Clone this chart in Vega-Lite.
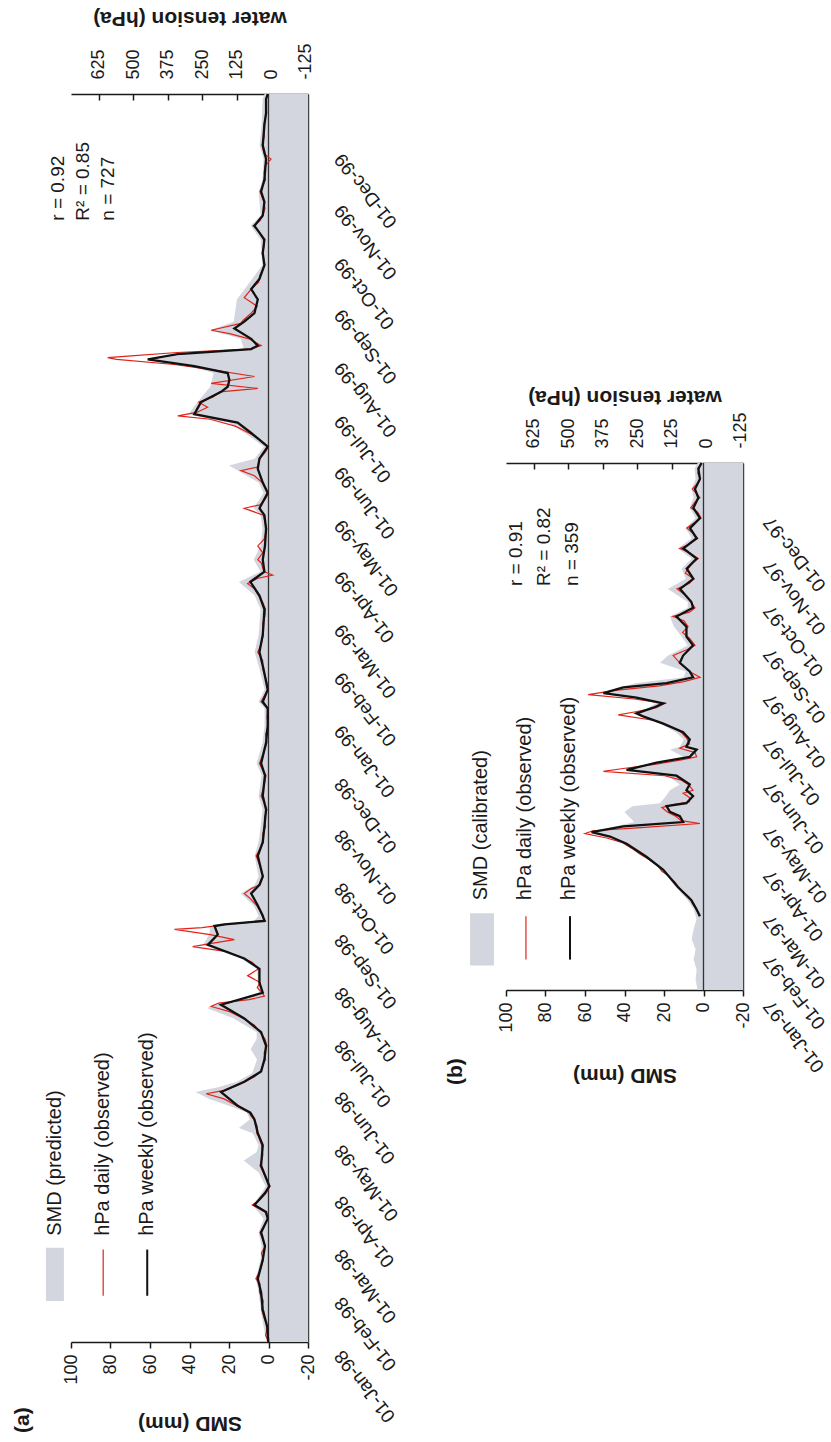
{
"$schema": "https://vega.github.io/schema/vega-lite/v6.json",
"padding": {"left": 12, "top": 7, "right": 0, "bottom": 0},
"config": {"view": {"stroke": null}, "font": "Liberation Sans",
  "axis": {"labelFont": "Liberation Sans", "titleFont": "Liberation Sans", "labelColor": "#1a1a1a", "titleColor": "#1a1a1a", "domainColor": "#1a1a1a", "tickColor": "#1a1a1a", "grid": false, "domainWidth": 1.5, "tickWidth": 1.5, "labelOverlap": false},
  "text": {"font": "Liberation Sans", "color": "#1a1a1a"}},
"datasets": {
"a_smd": [
{"date":"1998-01-01","smd":1},{"date":"1998-01-10","smd":2.5},{"date":"1998-01-20","smd":4},{"date":"1998-01-30","smd":5},{"date":"1998-02-07","smd":6.5},{"date":"1998-02-18","smd":4},{"date":"1998-02-26","smd":3.5},{"date":"1998-03-06","smd":5},{"date":"1998-03-14","smd":2.5},{"date":"1998-03-22","smd":8},{"date":"1998-03-29","smd":3.5},{"date":"1998-04-02","smd":1.5},{"date":"1998-04-10","smd":5},{"date":"1998-04-17","smd":12.5},{"date":"1998-04-22","smd":6},{"date":"1998-04-26","smd":5},{"date":"1998-05-03","smd":8},{"date":"1998-05-06","smd":15},{"date":"1998-05-11","smd":9.5},{"date":"1998-05-15","smd":11},{"date":"1998-05-19","smd":20},{"date":"1998-05-23","smd":30},{"date":"1998-05-27","smd":37},{"date":"1998-05-30","smd":25},{"date":"1998-06-02","smd":16},{"date":"1998-06-07","smd":8.3},{"date":"1998-06-15","smd":5.8},{"date":"1998-06-21","smd":9},{"date":"1998-06-27","smd":6},{"date":"1998-07-01","smd":6},{"date":"1998-07-09","smd":17.6},{"date":"1998-07-15","smd":31},{"date":"1998-07-17","smd":27.8},{"date":"1998-07-22","smd":8},{"date":"1998-07-24","smd":5},{"date":"1998-08-07","smd":5.8},{"date":"1998-08-13","smd":14},{"date":"1998-08-21","smd":33},{"date":"1998-08-27","smd":30},{"date":"1998-09-01","smd":29.5},{"date":"1998-09-03","smd":8},{"date":"1998-09-07","smd":5},{"date":"1998-09-13","smd":7.5},{"date":"1998-09-20","smd":14},{"date":"1998-09-25","smd":7},{"date":"1998-09-30","smd":5},{"date":"1998-10-12","smd":7},{"date":"1998-10-20","smd":5},{"date":"1998-10-29","smd":4},{"date":"1998-11-08","smd":3},{"date":"1998-11-16","smd":5},{"date":"1998-11-28","smd":3.5},{"date":"1998-12-05","smd":6},{"date":"1998-12-17","smd":3},{"date":"1998-12-27","smd":2},{"date":"1999-01-06","smd":2},{"date":"1999-01-10","smd":5},{"date":"1999-01-17","smd":2},{"date":"1999-01-29","smd":4.5},{"date":"1999-02-08","smd":7},{"date":"1999-02-18","smd":5},{"date":"1999-02-25","smd":4.5},{"date":"1999-03-05","smd":4},{"date":"1999-03-13","smd":7},{"date":"1999-03-21","smd":15},{"date":"1999-03-27","smd":4},{"date":"1999-04-03","smd":7.5},{"date":"1999-04-11","smd":4},{"date":"1999-04-21","smd":3},{"date":"1999-04-29","smd":4},{"date":"1999-05-03","smd":7.5},{"date":"1999-05-12","smd":2.5},{"date":"1999-05-18","smd":5},{"date":"1999-05-28","smd":20},{"date":"1999-06-01","smd":7},{"date":"1999-06-08","smd":2.4},{"date":"1999-06-16","smd":12},{"date":"1999-06-22","smd":20},{"date":"1999-06-27","smd":40.5},{"date":"1999-07-04","smd":36},{"date":"1999-07-13","smd":29.5},{"date":"1999-07-21","smd":27.8},{"date":"1999-07-25","smd":40},{"date":"1999-07-29","smd":58},{"date":"1999-08-02","smd":35},{"date":"1999-08-04","smd":12.5},{"date":"1999-08-10","smd":14},{"date":"1999-08-15","smd":29.5},{"date":"1999-08-20","smd":17.6},{"date":"1999-09-02","smd":16},{"date":"1999-09-10","smd":10.8},{"date":"1999-09-22","smd":3.2},{"date":"1999-10-07","smd":4},{"date":"1999-10-15","smd":9},{"date":"1999-10-21","smd":4},{"date":"1999-11-04","smd":5},{"date":"1999-11-11","smd":3},{"date":"1999-11-23","smd":2.5},{"date":"1999-12-01","smd":4.5},{"date":"1999-12-13","smd":3.5},{"date":"1999-12-28","smd":3},{"date":"1999-12-31","smd":2}],
"a_weekly": [
{"date":"1998-01-01","hpa":10},{"date":"1998-01-10","hpa":14},{"date":"1998-01-20","hpa":30},{"date":"1998-01-30","hpa":36},{"date":"1998-02-07","hpa":48},{"date":"1998-02-18","hpa":30},{"date":"1998-02-26","hpa":22},{"date":"1998-03-06","hpa":36},{"date":"1998-03-14","hpa":12},{"date":"1998-03-18","hpa":18},{"date":"1998-03-22","hpa":60},{"date":"1998-03-29","hpa":22},{"date":"1998-04-02","hpa":6},{"date":"1998-04-14","hpa":36},{"date":"1998-04-26","hpa":30},{"date":"1998-05-03","hpa":48},{"date":"1998-05-11","hpa":60},{"date":"1998-05-15","hpa":75},{"date":"1998-05-19","hpa":121},{"date":"1998-05-27","hpa":181},{"date":"1998-06-02","hpa":97},{"date":"1998-06-08","hpa":36},{"date":"1998-06-15","hpa":24},{"date":"1998-06-23","hpa":18},{"date":"1998-07-01","hpa":36},{"date":"1998-07-09","hpa":97},{"date":"1998-07-17","hpa":181},{"date":"1998-07-24","hpa":30},{"date":"1998-07-30","hpa":42},{"date":"1998-08-07","hpa":42},{"date":"1998-08-13","hpa":97},{"date":"1998-08-21","hpa":229},{"date":"1998-08-27","hpa":193},{"date":"1998-09-01","hpa":205},{"date":"1998-09-02","hpa":169},{"date":"1998-09-04","hpa":24},{"date":"1998-09-07","hpa":30},{"date":"1998-09-13","hpa":48},{"date":"1998-09-20","hpa":72},{"date":"1998-09-25","hpa":42},{"date":"1998-09-30","hpa":30},{"date":"1998-10-12","hpa":48},{"date":"1998-10-20","hpa":30},{"date":"1998-10-29","hpa":24},{"date":"1998-11-08","hpa":18},{"date":"1998-11-16","hpa":30},{"date":"1998-11-28","hpa":22},{"date":"1998-12-05","hpa":36},{"date":"1998-12-17","hpa":18},{"date":"1998-12-27","hpa":12},{"date":"1999-01-06","hpa":12},{"date":"1999-01-10","hpa":30},{"date":"1999-01-17","hpa":12},{"date":"1999-01-29","hpa":27},{"date":"1999-02-08","hpa":42},{"date":"1999-02-18","hpa":30},{"date":"1999-02-25","hpa":27},{"date":"1999-03-05","hpa":24},{"date":"1999-03-13","hpa":42},{"date":"1999-03-21","hpa":75},{"date":"1999-03-27","hpa":24},{"date":"1999-04-03","hpa":30},{"date":"1999-04-11","hpa":22},{"date":"1999-04-21","hpa":18},{"date":"1999-04-29","hpa":24},{"date":"1999-05-03","hpa":42},{"date":"1999-05-12","hpa":12},{"date":"1999-05-18","hpa":30},{"date":"1999-05-26","hpa":48},{"date":"1999-06-01","hpa":42},{"date":"1999-06-08","hpa":12},{"date":"1999-06-16","hpa":72},{"date":"1999-06-22","hpa":121},{"date":"1999-06-27","hpa":278},{"date":"1999-07-04","hpa":254},{"date":"1999-07-10","hpa":181},{"date":"1999-07-13","hpa":157},{"date":"1999-07-17","hpa":151},{"date":"1999-07-21","hpa":157},{"date":"1999-07-25","hpa":278},{"date":"1999-07-29","hpa":447},{"date":"1999-08-01","hpa":338},{"date":"1999-08-04","hpa":72},{"date":"1999-08-06","hpa":48},{"date":"1999-08-10","hpa":72},{"date":"1999-08-16","hpa":133},{"date":"1999-08-20","hpa":97},{"date":"1999-08-25","hpa":60},{"date":"1999-09-02","hpa":48},{"date":"1999-09-08","hpa":72},{"date":"1999-09-14","hpa":42},{"date":"1999-09-22","hpa":24},{"date":"1999-09-29","hpa":30},{"date":"1999-10-07","hpa":24},{"date":"1999-10-15","hpa":60},{"date":"1999-10-21","hpa":30},{"date":"1999-10-29","hpa":24},{"date":"1999-11-04","hpa":36},{"date":"1999-11-11","hpa":24},{"date":"1999-11-23","hpa":18},{"date":"1999-12-01","hpa":30},{"date":"1999-12-13","hpa":24},{"date":"1999-12-20","hpa":18},{"date":"1999-12-28","hpa":18},{"date":"1999-12-31","hpa":12}],
"a_daily": [
{"date":"1998-01-01","hpa":8},{"date":"1998-01-05","hpa":20},{"date":"1998-01-10","hpa":12},{"date":"1998-01-15","hpa":25},{"date":"1998-01-20","hpa":34},{"date":"1998-01-25","hpa":28},{"date":"1998-01-30","hpa":42},{"date":"1998-02-04","hpa":40},{"date":"1998-02-07","hpa":55},{"date":"1998-02-12","hpa":38},{"date":"1998-02-18","hpa":28},{"date":"1998-02-22","hpa":35},{"date":"1998-02-26","hpa":20},{"date":"1998-03-02","hpa":30},{"date":"1998-03-06","hpa":40},{"date":"1998-03-10","hpa":25},{"date":"1998-03-14","hpa":10},{"date":"1998-03-18","hpa":22},{"date":"1998-03-22","hpa":68},{"date":"1998-03-25","hpa":40},{"date":"1998-03-29","hpa":18},{"date":"1998-04-02","hpa":4},{"date":"1998-04-08","hpa":22},{"date":"1998-04-14","hpa":40},{"date":"1998-04-20","hpa":30},{"date":"1998-04-26","hpa":34},{"date":"1998-05-01","hpa":45},{"date":"1998-05-03","hpa":52},{"date":"1998-05-07","hpa":50},{"date":"1998-05-11","hpa":62},{"date":"1998-05-13","hpa":72},{"date":"1998-05-15","hpa":80},{"date":"1998-05-19","hpa":125},{"date":"1998-05-23","hpa":170},{"date":"1998-05-26","hpa":235},{"date":"1998-05-28","hpa":170},{"date":"1998-05-31","hpa":120},{"date":"1998-06-02","hpa":95},{"date":"1998-06-05","hpa":60},{"date":"1998-06-08","hpa":38},{"date":"1998-06-12","hpa":30},{"date":"1998-06-15","hpa":20},{"date":"1998-06-19","hpa":25},{"date":"1998-06-23","hpa":15},{"date":"1998-06-27","hpa":22},{"date":"1998-07-01","hpa":40},{"date":"1998-07-05","hpa":60},{"date":"1998-07-09","hpa":100},{"date":"1998-07-13","hpa":150},{"date":"1998-07-16","hpa":217},{"date":"1998-07-18","hpa":190},{"date":"1998-07-20","hpa":80},{"date":"1998-07-22","hpa":24},{"date":"1998-07-24","hpa":32},{"date":"1998-07-27","hpa":50},{"date":"1998-07-30","hpa":40},{"date":"1998-08-03","hpa":85},{"date":"1998-08-07","hpa":45},{"date":"1998-08-11","hpa":70},{"date":"1998-08-13","hpa":100},{"date":"1998-08-17","hpa":160},{"date":"1998-08-20","hpa":284},{"date":"1998-08-22","hpa":210},{"date":"1998-08-24","hpa":133},{"date":"1998-08-27","hpa":220},{"date":"1998-08-30","hpa":350},{"date":"1998-08-31","hpa":250},{"date":"1998-09-02","hpa":160},{"date":"1998-09-04","hpa":20},{"date":"1998-09-07","hpa":32},{"date":"1998-09-10","hpa":40},{"date":"1998-09-13","hpa":52},{"date":"1998-09-17","hpa":75},{"date":"1998-09-20","hpa":97},{"date":"1998-09-23","hpa":70},{"date":"1998-09-25","hpa":40},{"date":"1998-09-30","hpa":28},{"date":"1998-10-06","hpa":40},{"date":"1998-10-12","hpa":54},{"date":"1998-10-16","hpa":40},{"date":"1998-10-20","hpa":28},{"date":"1998-10-25","hpa":30},{"date":"1998-10-29","hpa":20},{"date":"1998-11-03","hpa":24},{"date":"1998-11-08","hpa":15},{"date":"1998-11-12","hpa":25},{"date":"1998-11-16","hpa":36},{"date":"1998-11-22","hpa":25},{"date":"1998-11-28","hpa":18},{"date":"1998-12-01","hpa":30},{"date":"1998-12-05","hpa":42},{"date":"1998-12-10","hpa":30},{"date":"1998-12-17","hpa":15},{"date":"1998-12-22","hpa":20},{"date":"1998-12-27","hpa":10},{"date":"1999-01-01","hpa":14},{"date":"1999-01-06","hpa":10},{"date":"1999-01-10","hpa":36},{"date":"1999-01-14","hpa":22},{"date":"1999-01-17","hpa":10},{"date":"1999-01-23","hpa":18},{"date":"1999-01-29","hpa":30},{"date":"1999-02-03","hpa":30},{"date":"1999-02-08","hpa":48},{"date":"1999-02-13","hpa":35},{"date":"1999-02-18","hpa":28},{"date":"1999-02-25","hpa":30},{"date":"1999-03-01","hpa":22},{"date":"1999-03-05","hpa":20},{"date":"1999-03-09","hpa":30},{"date":"1999-03-13","hpa":45},{"date":"1999-03-17","hpa":60},{"date":"1999-03-20","hpa":85},{"date":"1999-03-23","hpa":50},{"date":"1999-03-25","hpa":-6},{"date":"1999-03-27","hpa":26},{"date":"1999-04-01","hpa":35},{"date":"1999-04-03","hpa":48},{"date":"1999-04-07","hpa":30},{"date":"1999-04-11","hpa":48},{"date":"1999-04-15","hpa":25},{"date":"1999-04-21","hpa":16},{"date":"1999-04-25","hpa":22},{"date":"1999-04-29","hpa":28},{"date":"1999-05-03","hpa":97},{"date":"1999-05-05","hpa":40},{"date":"1999-05-09","hpa":18},{"date":"1999-05-12","hpa":10},{"date":"1999-05-18","hpa":32},{"date":"1999-05-22","hpa":60},{"date":"1999-05-25","hpa":109},{"date":"1999-05-27","hpa":50},{"date":"1999-06-01","hpa":40},{"date":"1999-06-05","hpa":20},{"date":"1999-06-08","hpa":10},{"date":"1999-06-12","hpa":40},{"date":"1999-06-16","hpa":80},{"date":"1999-06-20","hpa":130},{"date":"1999-06-24","hpa":220},{"date":"1999-06-26","hpa":338},{"date":"1999-06-28","hpa":270},{"date":"1999-07-01","hpa":230},{"date":"1999-07-04","hpa":262},{"date":"1999-07-07","hpa":210},{"date":"1999-07-10","hpa":185},{"date":"1999-07-12","hpa":48},{"date":"1999-07-15","hpa":217},{"date":"1999-07-19","hpa":60},{"date":"1999-07-23","hpa":217},{"date":"1999-07-26","hpa":350},{"date":"1999-07-29","hpa":560},{"date":"1999-07-30","hpa":592},{"date":"1999-07-31","hpa":507},{"date":"1999-08-02","hpa":340},{"date":"1999-08-04","hpa":80},{"date":"1999-08-06","hpa":36},{"date":"1999-08-10","hpa":80},{"date":"1999-08-13","hpa":150},{"date":"1999-08-15","hpa":217},{"date":"1999-08-19","hpa":110},{"date":"1999-08-21","hpa":100},{"date":"1999-08-25","hpa":72},{"date":"1999-08-29","hpa":50},{"date":"1999-09-03","hpa":97},{"date":"1999-09-08","hpa":72},{"date":"1999-09-12","hpa":45},{"date":"1999-09-16","hpa":40},{"date":"1999-09-22","hpa":22},{"date":"1999-09-29","hpa":32},{"date":"1999-10-03","hpa":25},{"date":"1999-10-07","hpa":28},{"date":"1999-10-12","hpa":45},{"date":"1999-10-15","hpa":65},{"date":"1999-10-18","hpa":40},{"date":"1999-10-21","hpa":30},{"date":"1999-10-25","hpa":22},{"date":"1999-10-29","hpa":26},{"date":"1999-11-04","hpa":40},{"date":"1999-11-08","hpa":28},{"date":"1999-11-11","hpa":20},{"date":"1999-11-15","hpa":25},{"date":"1999-11-19","hpa":22},{"date":"1999-11-23","hpa":0},{"date":"1999-11-26","hpa":25},{"date":"1999-12-01","hpa":32},{"date":"1999-12-06","hpa":25},{"date":"1999-12-13","hpa":26},{"date":"1999-12-20","hpa":16},{"date":"1999-12-28","hpa":20},{"date":"1999-12-31","hpa":10}],
"b_smd": [
{"date":"1997-01-01","smd":3},{"date":"1997-01-08","smd":4},{"date":"1997-01-15","smd":3.5},{"date":"1997-01-22","smd":5},{"date":"1997-01-29","smd":4},{"date":"1997-02-05","smd":6},{"date":"1997-02-12","smd":5},{"date":"1997-02-19","smd":3.5},{"date":"1997-02-26","smd":5},{"date":"1997-03-04","smd":8},{"date":"1997-03-13","smd":14},{"date":"1997-03-25","smd":21},{"date":"1997-04-03","smd":30},{"date":"1997-04-12","smd":40},{"date":"1997-04-17","smd":47},{"date":"1997-04-20","smd":57},{"date":"1997-04-24","smd":45},{"date":"1997-04-27","smd":35},{"date":"1997-05-01","smd":38},{"date":"1997-05-04","smd":40},{"date":"1997-05-08","smd":36},{"date":"1997-05-10","smd":22},{"date":"1997-05-15","smd":19},{"date":"1997-05-19","smd":17},{"date":"1997-05-23","smd":12},{"date":"1997-05-29","smd":18},{"date":"1997-06-02","smd":40},{"date":"1997-06-07","smd":26},{"date":"1997-06-11","smd":10},{"date":"1997-06-16","smd":17},{"date":"1997-06-18","smd":12},{"date":"1997-06-23","smd":10},{"date":"1997-06-28","smd":14},{"date":"1997-07-04","smd":22},{"date":"1997-07-09","smd":31},{"date":"1997-07-11","smd":35},{"date":"1997-07-15","smd":28},{"date":"1997-07-18","smd":24},{"date":"1997-07-22","smd":35},{"date":"1997-07-25","smd":52},{"date":"1997-07-29","smd":42},{"date":"1997-08-01","smd":34},{"date":"1997-08-05","smd":10},{"date":"1997-08-09","smd":9},{"date":"1997-08-15","smd":22},{"date":"1997-08-20","smd":18},{"date":"1997-08-27","smd":8},{"date":"1997-09-02","smd":11},{"date":"1997-09-09","smd":15},{"date":"1997-09-16","smd":17},{"date":"1997-09-22","smd":8},{"date":"1997-09-26","smd":8},{"date":"1997-10-05","smd":18},{"date":"1997-10-12","smd":9},{"date":"1997-10-19","smd":11},{"date":"1997-10-26","smd":6},{"date":"1997-11-02","smd":13},{"date":"1997-11-09","smd":6},{"date":"1997-11-16","smd":9},{"date":"1997-11-23","smd":4},{"date":"1997-11-30","smd":7},{"date":"1997-12-07","smd":5},{"date":"1997-12-13","smd":6},{"date":"1997-12-20","smd":4},{"date":"1997-12-27","smd":4.5},{"date":"1997-12-31","smd":3}],
"b_weekly": [
{"date":"1997-02-21","hpa":22},{"date":"1997-02-26","hpa":35},{"date":"1997-03-04","hpa":53},{"date":"1997-03-13","hpa":101},{"date":"1997-03-25","hpa":155},{"date":"1997-04-03","hpa":216},{"date":"1997-04-12","hpa":288},{"date":"1997-04-17","hpa":348},{"date":"1997-04-20","hpa":415},{"date":"1997-04-24","hpa":300},{"date":"1997-04-27","hpa":83},{"date":"1997-05-01","hpa":95},{"date":"1997-05-04","hpa":131},{"date":"1997-05-08","hpa":143},{"date":"1997-05-10","hpa":71},{"date":"1997-05-15","hpa":47},{"date":"1997-05-19","hpa":71},{"date":"1997-05-23","hpa":59},{"date":"1997-05-29","hpa":107},{"date":"1997-06-02","hpa":288},{"date":"1997-06-07","hpa":179},{"date":"1997-06-11","hpa":59},{"date":"1997-06-16","hpa":34},{"date":"1997-06-18","hpa":71},{"date":"1997-06-23","hpa":59},{"date":"1997-06-28","hpa":83},{"date":"1997-07-04","hpa":155},{"date":"1997-07-09","hpa":228},{"date":"1997-07-11","hpa":252},{"date":"1997-07-15","hpa":191},{"date":"1997-07-18","hpa":155},{"date":"1997-07-22","hpa":252},{"date":"1997-07-25","hpa":372},{"date":"1997-07-29","hpa":300},{"date":"1997-08-01","hpa":143},{"date":"1997-08-05","hpa":47},{"date":"1997-08-09","hpa":59},{"date":"1997-08-15","hpa":95},{"date":"1997-08-20","hpa":83},{"date":"1997-08-27","hpa":47},{"date":"1997-09-02","hpa":71},{"date":"1997-09-09","hpa":71},{"date":"1997-09-16","hpa":107},{"date":"1997-09-22","hpa":47},{"date":"1997-09-26","hpa":53},{"date":"1997-10-05","hpa":94},{"date":"1997-10-12","hpa":46},{"date":"1997-10-19","hpa":70},{"date":"1997-10-26","hpa":34},{"date":"1997-11-02","hpa":82},{"date":"1997-11-09","hpa":34},{"date":"1997-11-16","hpa":58},{"date":"1997-11-23","hpa":22},{"date":"1997-11-30","hpa":46},{"date":"1997-12-07","hpa":28},{"date":"1997-12-13","hpa":40},{"date":"1997-12-20","hpa":22},{"date":"1997-12-27","hpa":28},{"date":"1997-12-31","hpa":16}],
"b_daily": [
{"date":"1997-02-21","hpa":25},{"date":"1997-02-24","hpa":30},{"date":"1997-02-27","hpa":40},{"date":"1997-03-02","hpa":50},{"date":"1997-03-06","hpa":60},{"date":"1997-03-10","hpa":85},{"date":"1997-03-13","hpa":100},{"date":"1997-03-17","hpa":115},{"date":"1997-03-21","hpa":138},{"date":"1997-03-24","hpa":160},{"date":"1997-03-28","hpa":175},{"date":"1997-04-01","hpa":205},{"date":"1997-04-05","hpa":240},{"date":"1997-04-09","hpa":270},{"date":"1997-04-13","hpa":305},{"date":"1997-04-16","hpa":360},{"date":"1997-04-19","hpa":439},{"date":"1997-04-21","hpa":410},{"date":"1997-04-23","hpa":250},{"date":"1997-04-26","hpa":22},{"date":"1997-04-28","hpa":90},{"date":"1997-05-01","hpa":110},{"date":"1997-05-04","hpa":140},{"date":"1997-05-07","hpa":160},{"date":"1997-05-09","hpa":120},{"date":"1997-05-11","hpa":60},{"date":"1997-05-14","hpa":60},{"date":"1997-05-17","hpa":83},{"date":"1997-05-19","hpa":47},{"date":"1997-05-23","hpa":65},{"date":"1997-05-26","hpa":90},{"date":"1997-05-29","hpa":150},{"date":"1997-06-01","hpa":372},{"date":"1997-06-03","hpa":300},{"date":"1997-06-06","hpa":180},{"date":"1997-06-09","hpa":90},{"date":"1997-06-11","hpa":34},{"date":"1997-06-14","hpa":40},{"date":"1997-06-17","hpa":95},{"date":"1997-06-20","hpa":60},{"date":"1997-06-24","hpa":70},{"date":"1997-06-28","hpa":90},{"date":"1997-07-02","hpa":130},{"date":"1997-07-06","hpa":180},{"date":"1997-07-10","hpa":318},{"date":"1997-07-12","hpa":260},{"date":"1997-07-15","hpa":180},{"date":"1997-07-18","hpa":150},{"date":"1997-07-21","hpa":260},{"date":"1997-07-24","hpa":427},{"date":"1997-07-27","hpa":330},{"date":"1997-07-30","hpa":170},{"date":"1997-08-02","hpa":80},{"date":"1997-08-05","hpa":22},{"date":"1997-08-09","hpa":60},{"date":"1997-08-15","hpa":95},{"date":"1997-08-20","hpa":119},{"date":"1997-08-24","hpa":70},{"date":"1997-08-27","hpa":40},{"date":"1997-09-01","hpa":60},{"date":"1997-09-05","hpa":85},{"date":"1997-09-09","hpa":65},{"date":"1997-09-13","hpa":80},{"date":"1997-09-16","hpa":120},{"date":"1997-09-19","hpa":60},{"date":"1997-09-22","hpa":40},{"date":"1997-09-26","hpa":55},{"date":"1997-09-30","hpa":70},{"date":"1997-10-05","hpa":105},{"date":"1997-10-09","hpa":60},{"date":"1997-10-12","hpa":45},{"date":"1997-10-16","hpa":75},{"date":"1997-10-19","hpa":65},{"date":"1997-10-23","hpa":50},{"date":"1997-10-26","hpa":28},{"date":"1997-10-30","hpa":60},{"date":"1997-11-02","hpa":95},{"date":"1997-11-05","hpa":60},{"date":"1997-11-09","hpa":30},{"date":"1997-11-13","hpa":50},{"date":"1997-11-16","hpa":70},{"date":"1997-11-20","hpa":40},{"date":"1997-11-23","hpa":18},{"date":"1997-11-27","hpa":30},{"date":"1997-11-30","hpa":55},{"date":"1997-12-04","hpa":40},{"date":"1997-12-07","hpa":22},{"date":"1997-12-10","hpa":35},{"date":"1997-12-13","hpa":50},{"date":"1997-12-17","hpa":30},{"date":"1997-12-20","hpa":20},{"date":"1997-12-24","hpa":30},{"date":"1997-12-27","hpa":25},{"date":"1997-12-31","hpa":18}]
},
"hconcat": [
{
 "width": 237, "height": 1248,
 "title": {"text": "(a)", "orient": "left", "anchor": "start", "fontSize": 21, "fontWeight": "bold", "font": "Liberation Sans", "color": "#1a1a1a", "offset": 12},
 "layer": [
  {"layer": [
   {"data": {"name": "a_smd"}, "mark": {"type": "area", "orient": "horizontal", "color": "#d3d6de"},
    "encoding": {
     "y": {"field": "date", "type": "temporal", "title": null, "scale": {"domain": [{"year":1998,"month":1,"date":1},{"year":1999,"month":12,"date":31}]},
       "axis": {"orient": "right", "format": "%d-%b-%y", "tickCount": {"interval": "month", "step": 1}, "labelAngle": -128, "labelAlign": "right", "labelBaseline": "middle", "labelPadding": 30, "labelOffset": 10, "labelFontSize": 19, "ticks": false, "domainColor": "#444", "title": null, "labelFlush": false, "labelOverlap": false, "labelBound": false}},
     "x": {"field": "smd", "type": "quantitative", "scale": {"domain": [-20, 100], "reverse": true},
       "axis": {"orient": "bottom", "values": [100, 80, 60, 40, 20, 0, -20], "tickCount": 12, "labelExpr": "replace(datum.label, '\u2212', '-')", "labelAngle": -90, "labelFontSize": 18, "tickSize": 6, "labelPadding": 6, "labelOverlap": false, "labelBound": false, "title": "SMD (mm)", "titleAngle": 180, "titleBaseline": "bottom", "titleFontSize": 21, "titleFontWeight": "bold", "titlePadding": 28}},
     "x2": {"datum": -20}
    }},
   {"data": {"values": [{}]}, "mark": {"type": "rule", "color": "#333", "strokeWidth": 1.3}, "encoding": {"x": {"datum": 0, "type": "quantitative", "title": null}}},
   {"data": {"values": [{}]}, "mark": {"type": "rect", "color": "#d3d6de"},
    "encoding": {"x": {"datum": 112.7, "type": "quantitative", "title": null}, "x2": {"datum": 103.6},
     "y": {"datum": {"year":1998,"month":1,"date":25}, "type": "temporal", "title": null}, "y2": {"datum": {"year":1998,"month":2,"date":25}}}},
   {"data": {"values": [{}]}, "mark": {"type": "rule", "color": "#e2231a", "strokeWidth": 1.2},
    "encoding": {"x": {"datum": 83.7, "type": "quantitative", "title": null},
     "y": {"datum": {"year":1998,"month":1,"date":28}, "type": "temporal", "title": null}, "y2": {"datum": {"year":1998,"month":2,"date":24}}}},
   {"data": {"values": [{}]}, "mark": {"type": "rule", "color": "#111", "strokeWidth": 2},
    "encoding": {"x": {"datum": 61.4, "type": "quantitative", "title": null},
     "y": {"datum": {"year":1998,"month":1,"date":28}, "type": "temporal", "title": null}, "y2": {"datum": {"year":1998,"month":2,"date":24}}}},
   {"data": {"values": [{"label": "SMD (predicted)"}]}, "mark": {"type": "text", "angle": 270, "align": "left", "baseline": "middle", "fontSize": 20},
    "encoding": {"text": {"field": "label"}, "x": {"datum": 108, "type": "quantitative", "title": null}, "y": {"datum": {"year":1998,"month":3,"date":4}, "type": "temporal", "title": null}}},
   {"data": {"values": [{"label": "hPa daily (observed)"}]}, "mark": {"type": "text", "angle": 270, "align": "left", "baseline": "middle", "fontSize": 20},
    "encoding": {"text": {"field": "label"}, "x": {"datum": 83.7, "type": "quantitative", "title": null}, "y": {"datum": {"year":1998,"month":3,"date":4}, "type": "temporal", "title": null}}},
   {"data": {"values": [{"label": "hPa weekly (observed)"}]}, "mark": {"type": "text", "angle": 270, "align": "left", "baseline": "middle", "fontSize": 20},
    "encoding": {"text": {"field": "label"}, "x": {"datum": 61.4, "type": "quantitative", "title": null}, "y": {"datum": {"year":1998,"month":3,"date":4}, "type": "temporal", "title": null}}},
   {"data": {"values": [{}]}, "mark": {"type": "text", "angle": 270, "align": "left", "baseline": "top", "fontSize": 19, "lineHeight": 25, "text": ["r = 0.92", "R² = 0.85", "n = 727"]},
    "encoding": {"x": {"datum": 111.2, "type": "quantitative", "title": null}, "y": {"datum": {"year":1999,"month":10,"date":18}, "type": "temporal", "title": null}}}
  ]},
  {"layer": [
   {"data": {"name": "a_daily"}, "mark": {"type": "line", "orient": "horizontal", "color": "#e2231a", "strokeWidth": 1.2},
    "encoding": {
     "y": {"field": "date", "type": "temporal", "title": null, "scale": {"domain": [{"year":1998,"month":1,"date":1},{"year":1999,"month":12,"date":31}]}},
     "x": {"field": "hpa", "type": "quantitative", "scale": {"domain": [-134, 725], "reverse": true},
       "axis": {"orient": "top", "values": [625, 500, 375, 250, 125, 0, -125], "tickCount": 12, "labelExpr": "replace(datum.label, '\u2212', '-')", "labelAngle": -90, "labelFontSize": 18, "tickSize": -6, "labelPadding": 21, "labelOverlap": false, "labelBound": false, "title": "water tension (hPa)", "titleAngle": 180, "titleBaseline": "top", "titleFontSize": 21, "titleFontWeight": "bold", "titlePadding": 14}},
     "order": {"field": "date", "type": "temporal"}
    }},
   {"data": {"name": "a_weekly"}, "mark": {"type": "line", "orient": "horizontal", "color": "#111", "strokeWidth": 2.3},
    "encoding": {
     "y": {"field": "date", "type": "temporal", "title": null, "scale": {"domain": [{"year":1998,"month":1,"date":1},{"year":1999,"month":12,"date":31}]}},
     "x": {"field": "hpa", "type": "quantitative", "scale": {"domain": [-134, 725], "reverse": true}},
     "order": {"field": "date", "type": "temporal"}
    }}
  ]}
 ],
 "resolve": {"scale": {"x": "independent"}, "axis": {"x": "independent"}}
},
{
 "spacing": 0,
 "vconcat": [
 {"width": 1, "height": 292, "data": {"values": []}, "mark": "point"},
 {
 "width": 237, "height": 527,
 "title": {"text": "(b)", "orient": "left", "anchor": "start", "fontSize": 21, "fontWeight": "bold", "font": "Liberation Sans", "color": "#1a1a1a", "offset": 4},
 "layer": [
  {"layer": [
   {"data": {"name": "b_smd"}, "mark": {"type": "area", "orient": "horizontal", "color": "#d3d6de"},
    "encoding": {
     "y": {"field": "date", "type": "temporal", "title": null, "scale": {"domain": [{"year":1997,"month":1,"date":1},{"year":1997,"month":12,"date":31}]},
       "axis": {"orient": "right", "format": "%d-%b-%y", "tickCount": {"interval": "month", "step": 1}, "labelAngle": -128, "labelAlign": "right", "labelBaseline": "middle", "labelPadding": 24, "labelOffset": 12, "labelFontSize": 19, "ticks": false, "domainColor": "#444", "title": null, "labelFlush": false, "labelOverlap": false, "labelBound": false}},
     "x": {"field": "smd", "type": "quantitative", "scale": {"domain": [-20, 100], "reverse": true},
       "axis": {"orient": "bottom", "values": [100, 80, 60, 40, 20, 0, -20], "tickCount": 12, "labelExpr": "replace(datum.label, '\u2212', '-')", "labelAngle": -90, "labelFontSize": 18, "tickSize": 6, "labelPadding": 6, "labelOverlap": false, "labelBound": false, "title": "SMD (mm)", "titleAngle": 180, "titleBaseline": "bottom", "titleFontSize": 21, "titleFontWeight": "bold", "titlePadding": 32}},
     "x2": {"datum": -20}
    }},
   {"data": {"values": [{}]}, "mark": {"type": "rule", "color": "#333", "strokeWidth": 1.3}, "encoding": {"x": {"datum": 0, "type": "quantitative", "title": null}}},
   {"data": {"values": [{}]}, "mark": {"type": "rect", "color": "#d3d6de"},
    "encoding": {"x": {"datum": 118.2, "type": "quantitative", "title": null}, "x2": {"datum": 106.1},
     "y": {"datum": {"year":1997,"month":1,"date":18}, "type": "temporal", "title": null}, "y2": {"datum": {"year":1997,"month":2,"date":23}}}},
   {"data": {"values": [{}]}, "mark": {"type": "rule", "color": "#e2231a", "strokeWidth": 1.2},
    "encoding": {"x": {"datum": 89.9, "type": "quantitative", "title": null},
     "y": {"datum": {"year":1997,"month":1,"date":22}, "type": "temporal", "title": null}, "y2": {"datum": {"year":1997,"month":2,"date":21}}}},
   {"data": {"values": [{}]}, "mark": {"type": "rule", "color": "#111", "strokeWidth": 2},
    "encoding": {"x": {"datum": 67.6, "type": "quantitative", "title": null},
     "y": {"datum": {"year":1997,"month":1,"date":22}, "type": "temporal", "title": null}, "y2": {"datum": {"year":1997,"month":2,"date":21}}}},
   {"data": {"values": [{"label": "SMD (calibrated)"}]}, "mark": {"type": "text", "angle": 270, "align": "left", "baseline": "middle", "fontSize": 20},
    "encoding": {"text": {"field": "label"}, "x": {"datum": 112.5, "type": "quantitative", "title": null}, "y": {"datum": {"year":1997,"month":3,"date":4}, "type": "temporal", "title": null}}},
   {"data": {"values": [{"label": "hPa daily (observed)"}]}, "mark": {"type": "text", "angle": 270, "align": "left", "baseline": "middle", "fontSize": 20},
    "encoding": {"text": {"field": "label"}, "x": {"datum": 90.5, "type": "quantitative", "title": null}, "y": {"datum": {"year":1997,"month":3,"date":4}, "type": "temporal", "title": null}}},
   {"data": {"values": [{"label": "hPa weekly (observed)"}]}, "mark": {"type": "text", "angle": 270, "align": "left", "baseline": "middle", "fontSize": 20},
    "encoding": {"text": {"field": "label"}, "x": {"datum": 68, "type": "quantitative", "title": null}, "y": {"datum": {"year":1997,"month":3,"date":4}, "type": "temporal", "title": null}}},
   {"data": {"values": [{}]}, "mark": {"type": "text", "angle": 270, "align": "left", "baseline": "top", "fontSize": 19, "lineHeight": 28, "text": ["r = 0.91", "R² = 0.82", "n = 359"]},
    "encoding": {"x": {"datum": 99.5, "type": "quantitative", "title": null}, "y": {"datum": {"year":1997,"month":10,"date":7}, "type": "temporal", "title": null}}}
  ]},
  {"layer": [
   {"data": {"name": "b_daily"}, "mark": {"type": "line", "orient": "horizontal", "color": "#e2231a", "strokeWidth": 1.2},
    "encoding": {
     "y": {"field": "date", "type": "temporal", "title": null, "scale": {"domain": [{"year":1997,"month":1,"date":1},{"year":1997,"month":12,"date":31}]}},
     "x": {"field": "hpa", "type": "quantitative", "scale": {"domain": [-134, 725], "reverse": true},
       "axis": {"orient": "top", "values": [625, 500, 375, 250, 125, 0, -125], "tickCount": 12, "labelExpr": "replace(datum.label, '\u2212', '-')", "labelAngle": -90, "labelFontSize": 18, "tickSize": -6, "labelPadding": 21, "labelOverlap": false, "labelBound": false, "title": "water tension (hPa)", "titleAngle": 180, "titleBaseline": "top", "titleFontSize": 21, "titleFontWeight": "bold", "titlePadding": 4}},
     "order": {"field": "date", "type": "temporal"}
    }},
   {"data": {"name": "b_weekly"}, "mark": {"type": "line", "orient": "horizontal", "color": "#111", "strokeWidth": 2.3},
    "encoding": {
     "y": {"field": "date", "type": "temporal", "title": null, "scale": {"domain": [{"year":1997,"month":1,"date":1},{"year":1997,"month":12,"date":31}]}},
     "x": {"field": "hpa", "type": "quantitative", "scale": {"domain": [-134, 725], "reverse": true}},
     "order": {"field": "date", "type": "temporal"}
    }}
  ]}
 ],
 "resolve": {"scale": {"x": "independent"}, "axis": {"x": "independent"}}
 }
 ]
}
],
"spacing": 43
}
